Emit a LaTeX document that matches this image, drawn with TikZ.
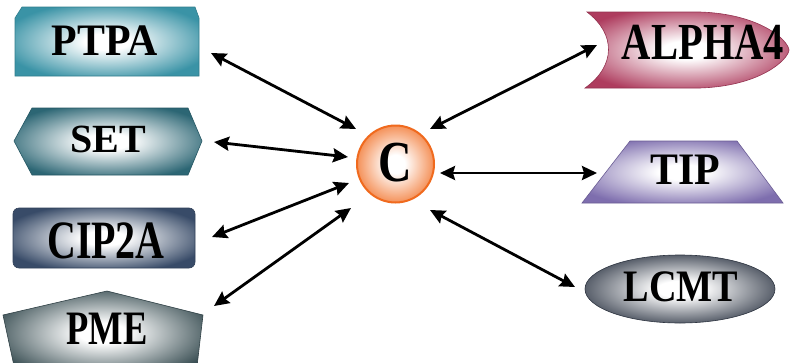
\documentclass[tikz,border=0pt]{standalone}
\usepackage{fontspec}
\setmainfont{Liberation Serif}
\usepackage{graphicx}
\usetikzlibrary{arrows.meta}
\makeatletter
\pgfdeclareradialshading[tikz@radial@inner,tikz@radial@outer]{softrad}{\pgfpoint{0bp}{0bp}}{color(0bp)=(tikz@radial@inner); color(6bp)=(tikz@radial@inner); color(29bp)=(tikz@radial@outer); color(50bp)=(tikz@radial@outer)}
\makeatother
\definecolor{cPTPA}{HTML}{3A93A6}
\definecolor{cSET}{HTML}{2C6674}
\definecolor{cCIP}{HTML}{384B68}
\definecolor{cPME}{HTML}{384D52}
\definecolor{cALPHA}{HTML}{AE3C5E}
\definecolor{cTIP}{HTML}{7E6EAE}
\definecolor{cLCMT}{HTML}{363E4C}
\definecolor{cC}{HTML}{F27A36}
\definecolor{cCb}{HTML}{F06A1E}
\newcommand{\lbl}[3]{\scalebox{#2}[1]{\fontsize{#1}{#1}\selectfont\bfseries #3}}
\begin{document}
\begin{tikzpicture}[x=1pt,y=-1pt,
  shapefill/.style={inner color=white, outer color=#1, shading=softrad, draw=#1!85!black, line width=0.6pt},
  txt/.style={inner sep=0pt, text=black},
  biarrow/.style={line width=2.8pt, {Stealth[length=15pt,width=14pt,inset=2pt]}-{Stealth[length=15pt,width=14pt,inset=2pt]}}]
\useasboundingbox (0,0) rectangle (790,362);
\clip (0,0) rectangle (790,362);
\fill[white] (0,0) rectangle (790,362);
% shapes
\path[shapefill=cPTPA] (15,18) -- (22,7) -- (195,7) -- (199,18) -- (199,76) -- (15,76) -- cycle;
\path[shapefill=cSET] (14,141) -- (32,108) -- (188,108) -- (202,141) -- (188,175) -- (32,175) -- cycle;
\path[shapefill=cCIP, rounded corners=6pt] (13,208) rectangle (195,268);
\path[shapefill=cPME] (3,315) -- (107,291) -- (203,315) -- (196,375) -- (16,375) -- cycle;
\path[shapefill=cALPHA] (587,12) -- (700,12) .. controls (760,14) and (788,40) .. (789,50) .. controls (788,60) and (760,86) .. (700,88) -- (585,88) .. controls (616,66) and (616,34) .. (587,12) -- cycle;
\path[shapefill=cTIP] (630,141) -- (737,141) -- (783,203) -- (582,203) -- cycle;
\path[shapefill=cLCMT] (680,289) ellipse [x radius=95pt, y radius=34pt];
\node[circle, minimum size=77pt, inner sep=0pt, inner color=white, outer color=cC, shading=softrad, draw=cCb, line width=2pt] (c) at (395.5,164) {};
% labels
\node[txt] (ptpa) at (105,41) {\lbl{45}{0.93}{PTPA}};
\node[txt] (set) at (108,139) {\lbl{40}{1.0}{SET}};
\node[txt] (cip) at (106,241) {\lbl{54}{0.74}{CIP2A}};
\node[txt] (pme) at (107,329) {\lbl{48}{0.76}{PME}};
\node[txt] (alpha) at (703,42) {\lbl{52}{0.78}{ALPHA4}};
\node[txt] (tip) at (685,170) {\lbl{45}{0.93}{TIP}};
\node[txt] (lcmt) at (681,287) {\lbl{45}{0.85}{LCMT}};
\node[txt] (ctext) at (395,163) {\lbl{58}{0.8}{C}};
% arrow ends
\coordinate (p1) at (211,53);  \coordinate (c1) at (356,129);
\coordinate (p2) at (214,142); \coordinate (c2) at (348,157);
\coordinate (p3) at (212,237); \coordinate (c3) at (349,183);
\coordinate (p4) at (214,306); \coordinate (c4) at (351,208);
\coordinate (p5) at (597,45);  \coordinate (c5) at (430,129);
\coordinate (p6) at (597,173); \coordinate (c6) at (440,173);
\coordinate (p7) at (575,287); \coordinate (c7) at (430,210);
\draw[biarrow] (p1) -- (c1);
\draw[biarrow] (p2) -- (c2);
\draw[biarrow] (p3) -- (c3);
\draw[biarrow] (p4) -- (c4);
\draw[biarrow] (p5) -- (c5);
\draw[biarrow] (p6) -- (c6);
\draw[biarrow] (p7) -- (c7);
\end{tikzpicture}
\end{document}
